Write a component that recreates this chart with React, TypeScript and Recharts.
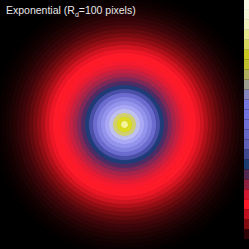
import React from "react"
import { RadialBarChart, RadialBar, PolarAngleAxis, PolarRadiusAxis, Cell, BarChart, Bar, XAxis, YAxis } from "recharts"

// ring colours from the centre outward, 4px each
const ringColors = [
  "#f4f498", "#dcdc20", "#d0d070", "#c0c0f0", "#a8a8f6", "#9494ee", "#8282e0", "#6c6cd0",
  "#4a50a8", "#203c78", "#502c64", "#802858", "#a82448", "#c82040", "#e41c34", "#f81a2e",
  "#ff1a2a", "#ff1a2a", "#ec1626", "#d01420", "#b0101a", "#920e14", "#780c10", "#620a0e",
  "#4e080c", "#3e060a", "#320508", "#260406", "#1c0304", "#140203", "#0e0102", "#080001",
  "#040000",
]

// colour bar, bottom to top
const colorbarColors = [
  "#000000", "#300406", "#800c10", "#c01020", "#ff1828", "#d01830", "#902040", "#502850",
  "#1c3c70", "#404890", "#6060b8", "#6868c8", "#7070d8", "#7474e0", "#7878e0", "#8888c0",
  "#a0a090", "#b0b060", "#c0c030", "#c8c820", "#d8d860", "#e8e890", "#f0f0c0", "#f4f4d8",
  "#f8f8e8",
]

const ringData = ringColors.map((c, i) => ({ ring: i, value: 1 }))

const barRow: Record<string, number | string> = { name: "cb" }
colorbarColors.forEach((c, i) => {
  barRow["c" + i] = 1
})
const barData = [barRow]

export default function App() {
  return (
    <div style={{ position: "fixed", left: 0, top: 0, width: 249, height: 249, background: "#000" }}>
      <RadialBarChart
        width={249}
        height={249}
        cx="50%"
        cy="50%"
        innerRadius={0}
        outerRadius={132}
        data={ringData}
        startAngle={90}
        endAngle={-270}
        barCategoryGap={0}
        barGap={0}
        margin={{ top: 0, right: 0, bottom: 0, left: 0 }}
      >
        <PolarAngleAxis type="number" domain={[0, 1]} tick={false} axisLine={false} />
        <PolarRadiusAxis type="category" dataKey="ring" tick={false} axisLine={false} />
        <RadialBar dataKey="value" isAnimationActive={false}>
          {ringData.map((d, i) => (
            <Cell key={i} fill={ringColors[i]} stroke={ringColors[i]} strokeWidth={1} />
          ))}
        </RadialBar>
      </RadialBarChart>
      <div style={{ position: "absolute", left: 244, top: 0 }}>
        <BarChart
          width={5}
          height={249}
          data={barData}
          barCategoryGap={0}
          margin={{ top: 0, right: 0, bottom: 0, left: 0 }}
        >
          <XAxis dataKey="name" hide />
          <YAxis hide domain={[0, colorbarColors.length]} />
          {colorbarColors.map((c, i) => (
            <Bar key={i} dataKey={"c" + i} stackId="a" fill={c} isAnimationActive={false} />
          ))}
        </BarChart>
      </div>
      <div
        style={{
          position: "absolute",
          left: 6,
          top: 4,
          color: "#e8e8e8",
          fontFamily: "Liberation Sans, sans-serif",
          fontSize: 10.5,
          whiteSpace: "nowrap",
        }}
      >
        Exponential (R<sub style={{ fontSize: 7 }}>d</sub>=100 pixels)
      </div>
    </div>
  )
}
